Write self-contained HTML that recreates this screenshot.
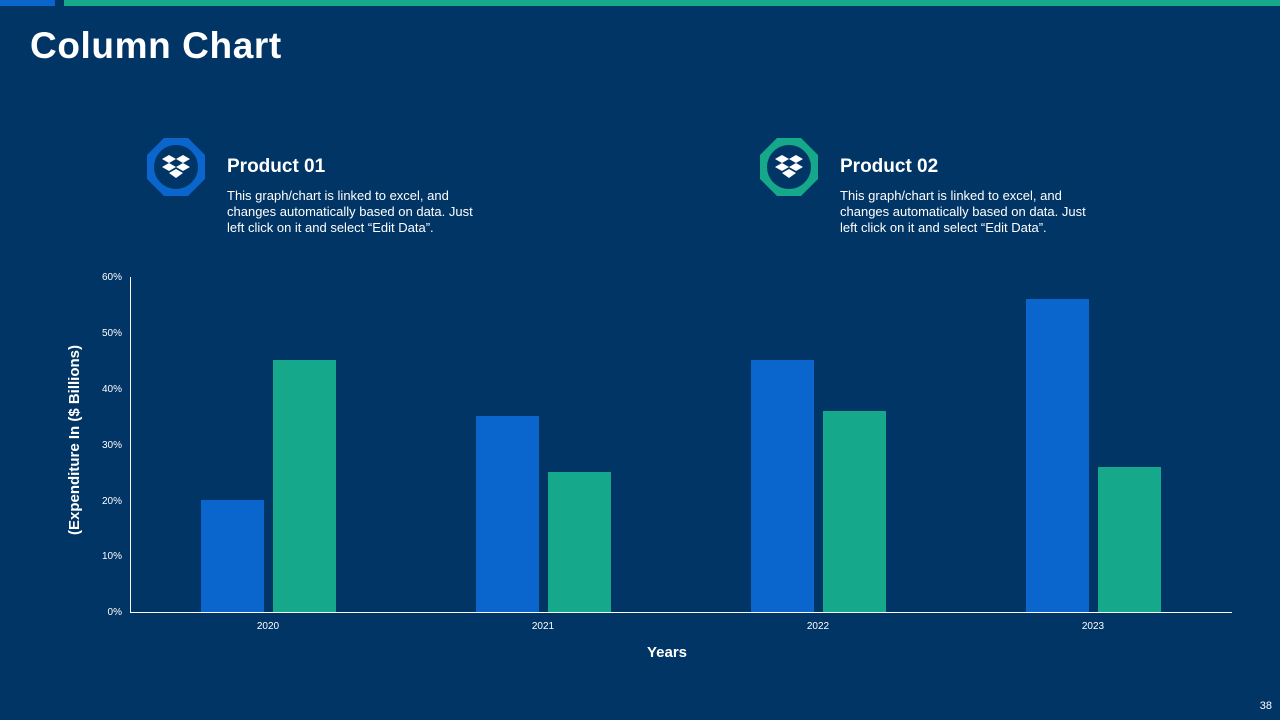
<!DOCTYPE html>
<html><head><meta charset="utf-8"><style>
body{margin:0;width:1280px;height:720px;background:#013566;position:relative;overflow:hidden;font-family:"Liberation Sans",sans-serif;color:#fff}
.a{position:absolute}
.t{font-size:13px;line-height:16px}
</style></head><body>
<div class="a" style="left:0;top:0;width:55px;height:6px;background:#0a66cc"></div>
<div class="a" style="left:64px;top:0;width:1216px;height:6px;background:#15a88a"></div>
<div class="a" style="left:30px;top:25px;font-size:37px;font-weight:bold;letter-spacing:0.6px">Column Chart</div>
<svg class="a" style="left:0;top:0" width="1280" height="720">
<g transform="translate(176,167)">
<polygon points="-12,-29 12,-29 29,-12 29,12 12,29 -12,29 -29,12 -29,-12" fill="#0a66cc"/>
<circle r="22" fill="#013566"/>
<g fill="#fff"><polygon points="-7,-12 0,-8 -7,-4 -14,-8"/><polygon points="7,-12 14,-8 7,-4 0,-8"/><polygon points="-7,-4 0,0 -7,4 -14,0"/><polygon points="7,-4 14,0 7,4 0,0"/><polygon points="-7,6 0,2 7,6 0,11"/></g>
</g>
<g transform="translate(789,167)">
<polygon points="-12,-29 12,-29 29,-12 29,12 12,29 -12,29 -29,12 -29,-12" fill="#15a88a"/>
<circle r="22" fill="#013566"/>
<g fill="#fff"><polygon points="-7,-12 0,-8 -7,-4 -14,-8"/><polygon points="7,-12 14,-8 7,-4 0,-8"/><polygon points="-7,-4 0,0 -7,4 -14,0"/><polygon points="7,-4 14,0 7,4 0,0"/><polygon points="-7,6 0,2 7,6 0,11"/></g>
</g>
<line x1="130.5" y1="277" x2="130.5" y2="612" stroke="#fff" stroke-width="1"/>
<line x1="130" y1="612.5" x2="1232" y2="612.5" stroke="#fff" stroke-width="1"/>
<g font-size="10" fill="#fff" text-anchor="end" font-family="Liberation Sans">
<text x="122" y="280">60%</text><text x="122" y="336">50%</text><text x="122" y="392">40%</text><text x="122" y="448">30%</text><text x="122" y="504">20%</text><text x="122" y="559">10%</text><text x="122" y="615">0%</text>
</g>
<g font-size="10" fill="#fff" text-anchor="middle" font-family="Liberation Sans">
<text x="268" y="629">2020</text><text x="543" y="629">2021</text><text x="818" y="629">2022</text><text x="1093" y="629">2023</text>
</g>
<g fill="#0a66cc"><rect x="201" y="500" width="63" height="112"/><rect x="476" y="416" width="63" height="196"/><rect x="751" y="360" width="63" height="252"/><rect x="1026" y="299" width="63" height="313"/></g>
<g fill="#15a88a"><rect x="273" y="360" width="63" height="252"/><rect x="548" y="472" width="63" height="140"/><rect x="823" y="411" width="63" height="201"/><rect x="1098" y="467" width="63" height="145"/></g>
<text x="667" y="657" font-size="15" font-weight="bold" fill="#fff" text-anchor="middle" font-family="Liberation Sans">Years</text>
<text transform="translate(79,440) rotate(-90)" font-size="15" font-weight="bold" fill="#fff" text-anchor="middle" font-family="Liberation Sans">(Expenditure In ($ Billions)</text>
<text x="1272" y="709" font-size="11" fill="#fff" text-anchor="end" font-family="Liberation Sans">38</text>
</svg>
<div class="a" style="left:227px;top:156px;font-size:19px;font-weight:bold">Product 01</div>
<div class="a t" style="left:227px;top:188px">This graph/chart is linked to excel, and<br>changes automatically based on data. Just<br>left click on it and select “Edit Data”.</div>
<div class="a" style="left:840px;top:156px;font-size:19px;font-weight:bold">Product 02</div>
<div class="a t" style="left:840px;top:188px">This graph/chart is linked to excel, and<br>changes automatically based on data. Just<br>left click on it and select “Edit Data”.</div>
</body></html>
